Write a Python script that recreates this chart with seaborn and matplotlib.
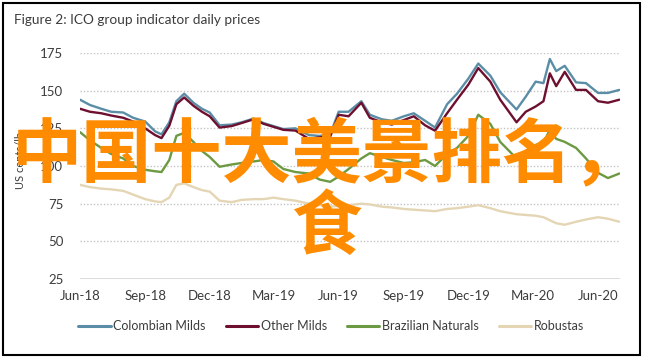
import pandas as pd
import numpy as np
import matplotlib
matplotlib.use("Agg")
import matplotlib.pyplot as plt
import matplotlib.dates as mdates
from matplotlib.patches import Rectangle
import seaborn as sns

# ICO group indicator prices (US cents/lb)
dates = pd.to_datetime([
    "2018-06-01", "2018-06-15", "2018-07-01", "2018-07-15", "2018-08-01", "2018-08-15",
    "2018-09-01", "2018-09-15", "2018-09-24", "2018-10-05", "2018-10-15", "2018-10-26",
    "2018-11-08", "2018-11-20", "2018-12-01", "2018-12-15", "2019-01-01", "2019-01-15",
    "2019-02-01", "2019-02-15", "2019-03-01", "2019-03-15", "2019-04-01", "2019-04-20",
    "2019-05-05", "2019-05-20", "2019-06-01", "2019-06-15", "2019-07-03", "2019-07-15",
    "2019-08-01", "2019-08-15", "2019-09-01", "2019-09-15", "2019-10-01", "2019-10-15",
    "2019-11-01", "2019-11-15", "2019-12-01", "2019-12-15", "2020-01-01", "2020-01-15",
    "2020-02-07", "2020-02-20", "2020-03-05", "2020-03-16", "2020-03-25", "2020-04-03",
    "2020-04-15", "2020-05-01", "2020-05-15", "2020-06-01", "2020-06-15", "2020-07-01",
])

colombian = [144, 140.5, 138, 136, 135.5, 132, 129.5, 123, 121, 129, 143, 148,
             142, 138, 135.5, 127, 127.5, 129, 131.5, 128.5, 126.5, 124.5, 125, 120.5,
             120, 121, 136, 136, 143, 134, 131, 130, 133, 135, 130, 125.5,
             141, 148, 158, 168, 160, 149, 137.5, 146, 156, 155, 171, 163,
             166.5, 155.5, 155, 148.5, 148.5, 150.5]
other_milds = [138, 136, 135, 133.5, 132, 129.5, 125, 120.5, 118.5, 126.7, 141, 145.5,
               140, 136, 133, 125.5, 126.5, 128.5, 131, 128, 126, 124, 123.5, 118,
               119, 119.5, 134, 133, 142, 132, 129, 127.5, 130.5, 133, 127, 123.4,
               135, 144, 154, 165, 156, 144, 129, 136, 139.5, 143, 161.5, 153,
               162.5, 150.5, 150.5, 143, 142, 144]
brazilian = [122.5, 117, 112, 108, 105, 100, 97.5, 96.5, 96, 104, 120, 122,
             116, 110, 106, 99.5, 101, 102, 103, 104, 103, 98, 96, 95,
             91, 89.5, 93, 98, 105, 108.5, 106, 104, 102, 102.5, 104, 100,
             108, 112, 120, 134, 128, 116, 105, 110, 114, 115.5, 124, 118,
             116, 112, 105, 95.5, 92, 95]
robustas = [87.5, 86, 85, 84.5, 83.5, 81, 78, 76.5, 76, 79, 87.5, 88.5,
            86, 84, 83, 77, 76, 77.5, 78, 78, 79, 78, 77, 75,
            74, 73, 73.5, 74, 75, 74.5, 73, 72.5, 71.5, 71, 70.5, 70,
            71.5, 72, 73, 74, 72, 70, 68, 67.5, 67, 66, 64, 62,
            61, 63, 64.5, 66, 65, 63]

groups = ["Colombian Milds", "Other Milds", "Brazilian Naturals", "Robustas"]
colors = ["#5b8ea6", "#6e0f30", "#6c9a42", "#e4d6b4"]

wide = pd.DataFrame({"Date": dates, groups[0]: colombian, groups[1]: other_milds,
                     groups[2]: brazilian, groups[3]: robustas})
df = wide.melt(id_vars="Date", var_name="Group", value_name="Price")

sns.set_theme(style="white")
plt.rcParams["font.family"] = ["Lato", "DejaVu Sans"]
text_col = "#3c3c3c"

fig = plt.figure(figsize=(6.46, 3.6), dpi=100)
ax = fig.add_axes([80 / 646, 1 - 279 / 360, 540 / 646, 226 / 360])

sns.lineplot(data=df, x="Date", y="Price", hue="Group", hue_order=groups,
             palette=colors, linewidth=1.7, ax=ax, legend=False)

ax.set_ylim(25, 175)
ax.set_yticks([25, 50, 75, 100, 125, 150, 175])
ax.set_xlim(pd.Timestamp("2018-06-01"), pd.Timestamp("2020-07-02"))
ax.xaxis.set_major_locator(mdates.MonthLocator(bymonth=[3, 6, 9, 12]))
ax.xaxis.set_major_formatter(mdates.DateFormatter("%b-%y"))

for v in [50, 75, 100, 125, 150, 175]:
    ax.axhline(v, color="#c4c4c4", lw=1.0, ls=(0, (1, 1.4)), zorder=0)
ax.axhline(25, color="#d6d6d6", lw=1.2, zorder=0)

for s in ax.spines.values():
    s.set_visible(False)
ax.tick_params(axis="both", length=0, labelsize=9.5, colors=text_col)
ax.tick_params(axis="y", pad=12)
ax.tick_params(axis="x", pad=8)
ax.set_xlabel("")
ax.set_ylabel("")

fig.text(20 / 646, 1 - 160 / 360, "US cents/lb", rotation=90, ha="center",
         va="center", fontsize=8, color=text_col)
fig.text(14 / 646, 1 - 20 / 360, "Figure 2: ICO group indicator daily prices",
         ha="left", va="center", fontsize=9.8, color=text_col)

handles = [plt.Line2D([], [], color=c, lw=2.2) for c in colors]
fig.legend(handles, groups, loc="center", bbox_to_anchor=(331 / 646, 1 - 326 / 360),
           ncol=4, frameon=False, fontsize=9, handlelength=2.6,
           handletextpad=0.2, columnspacing=1.6, labelcolor=text_col)

# black frame around the whole figure
fig.patches.append(Rectangle((3 / 646, 5 / 360), 637 / 646, 352 / 360,
                             transform=fig.transFigure, fill=False,
                             edgecolor="black", lw=1.5))

# orange overlay text
wm = ["Noto Sans CJK SC", "DejaVu Sans"]
fig.text(327 / 646, 1 - 156 / 360, "中国十大美景排名，", ha="center", va="center",
         fontsize=50.5, fontweight="bold", color="#ff8c00", family=wm)
fig.text(326 / 646, 1 - 229 / 360, "食", ha="center", va="center",
         fontsize=50.5, fontweight="bold", color="#ff8c00", family=wm)

fig.savefig("out.png", dpi=100)
